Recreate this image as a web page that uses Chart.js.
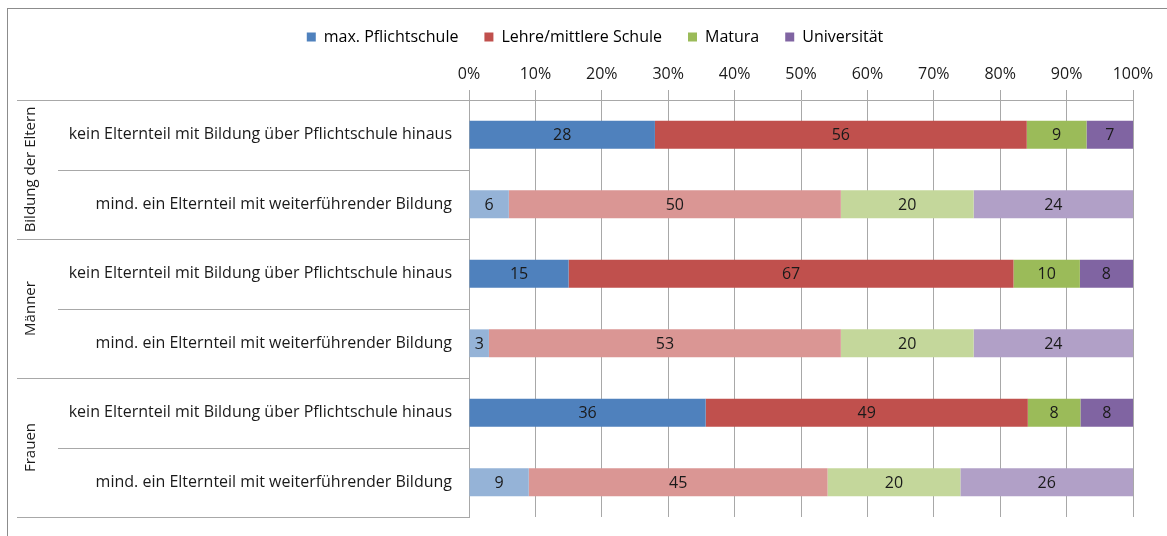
<!DOCTYPE html>
<html>
<head>
<meta charset="utf-8">
<script src="https://cdn.jsdelivr.net/npm/chart.js@4/dist/chart.umd.min.js"></script>
<style>
  html, body { margin: 0; background: #fff; }
  #wrap { position: relative; width: 1167px; height: 536px; }
</style>
</head>
<body>
<div id="wrap"><canvas id="chart"></canvas></div>
<script>
// rows, top to bottom; two rows per group
const rowLabels = [
  'kein Elternteil mit Bildung über Pflichtschule hinaus',
  'mind. ein Elternteil mit weiterführender Bildung',
  'kein Elternteil mit Bildung über Pflichtschule hinaus',
  'mind. ein Elternteil mit weiterführender Bildung',
  'kein Elternteil mit Bildung über Pflichtschule hinaus',
  'mind. ein Elternteil mit weiterführender Bildung'
];
const groupLabels = ['Bildung der Eltern', 'Männer', 'Frauen'];
const seriesNames = ['max. Pflichtschule', 'Lehre/mittlere Schule', 'Matura', 'Universität'];

// percentages per row
const pflichtschule = [28, 6, 15, 3, 36, 9];
const lehre = [56, 50, 67, 53, 49, 45];
const matura = [9, 20, 10, 20, 8, 20];
const universitaet = [7, 24, 8, 24, 8, 26];

const darkColors = ['#4F81BD', '#C0504D', '#9BBB59', '#8064A2'];
const lightColors = ['#95B3D7', '#DA9694', '#C4D79B', '#B1A0C7'];

const FONT = '"Open Sans"';
const SIZE = 16;
const TEXT = '#1a1a1a';
const LINE = '#a8a8a8';

const series = [pflichtschule, lehre, matura, universitaet];
const rowTotals = rowLabels.map((_, r) => series.reduce((s, arr) => s + arr[r], 0));

const datasets = series.map((values, i) => ({
  label: seriesNames[i],
  counts: values,
  // 100% stacked: each row is scaled to its own total
  data: values.map((v, r) => v / rowTotals[r] * 100),
  backgroundColor: ctx => (ctx.dataIndex % 2 ? lightColors[i] : darkColors[i]),
  borderWidth: 0,
  barPercentage: 0.4,
  categoryPercentage: 1
}));

const framePlugin = {
  id: 'frame',
  beforeDraw(chart) {
    const ctx = chart.ctx;
    ctx.save();
    ctx.fillStyle = '#fff';
    ctx.fillRect(0, 0, chart.width, chart.height);
    ctx.strokeStyle = '#8c8c8c';
    ctx.lineWidth = 1;
    ctx.strokeRect(7.5, 8.5, chart.width, chart.height);
    ctx.restore();
  }
};

// separator lines left of the bars plus the rotated group titles
const rowGridPlugin = {
  id: 'rowGrid',
  afterDraw(chart) {
    const ctx = chart.ctx;
    const y = chart.scales.y;
    const right = chart.chartArea.left;
    ctx.save();
    ctx.strokeStyle = LINE;
    ctx.lineWidth = 1;
    for (let i = 0; i <= rowLabels.length; i++) {
      const py = Math.round(y.getPixelForValue(i - 0.5)) + 0.5;
      const left = i % 2 === 0 ? 17 : 58;
      ctx.beginPath();
      ctx.moveTo(left, py);
      ctx.lineTo(right, py);
      ctx.stroke();
    }
    ctx.fillStyle = TEXT;
    ctx.font = '15px ' + FONT;
    ctx.textAlign = 'center';
    ctx.textBaseline = 'middle';
    groupLabels.forEach((g, k) => {
      const cy = y.getPixelForValue(k * 2 + 0.5);
      ctx.save();
      ctx.translate(31, cy);
      ctx.rotate(-Math.PI / 2);
      ctx.fillText(g, 0, 0);
      ctx.restore();
    });
    ctx.restore();
  }
};

const barValuesPlugin = {
  id: 'barValues',
  afterDatasetsDraw(chart) {
    const ctx = chart.ctx;
    ctx.save();
    ctx.fillStyle = TEXT;
    ctx.font = SIZE + 'px ' + FONT;
    ctx.textAlign = 'center';
    ctx.textBaseline = 'middle';
    chart.data.datasets.forEach((ds, i) => {
      chart.getDatasetMeta(i).data.forEach((bar, r) => {
        const p = bar.getCenterPoint();
        ctx.fillText(String(ds.counts[r]), p.x, p.y + 1);
      });
    });
    ctx.restore();
  }
};

new Chart(document.getElementById('chart'), {
  type: 'bar',
  data: { labels: rowLabels, datasets },
  plugins: [framePlugin, rowGridPlugin, barValuesPlugin],
  options: {
    indexAxis: 'y',
    responsive: true,
    maintainAspectRatio: false,
    animation: false,
    layout: { padding: { left: 57, right: 34, top: 3, bottom: 19 } },
    plugins: {
      tooltip: { enabled: false },
      legend: {
        position: 'top',
        labels: {
          boxWidth: 9,
          boxHeight: 9,
          padding: 26,
          color: TEXT,
          font: { family: FONT, size: SIZE },
          generateLabels(chart) {
            return chart.data.datasets.map((ds, i) => ({
              text: ds.label,
              fillStyle: darkColors[i],
              strokeStyle: darkColors[i],
              lineWidth: 0,
              datasetIndex: i
            }));
          }
        }
      }
    },
    scales: {
      x: {
        position: 'top',
        stacked: true,
        min: 0,
        max: 100,
        ticks: {
          stepSize: 10,
          padding: 6,
          color: TEXT,
          font: { family: FONT, size: SIZE },
          callback: v => v + '%'
        },
        grid: { color: LINE, tickLength: 10, tickColor: LINE },
        border: { color: LINE },
        // labels are clipped to the scale box, so keep it tall enough
        afterFit(scale) { scale.height = 45; }
      },
      y: {
        stacked: true,
        ticks: {
          padding: 9,
          color: TEXT,
          font: { family: FONT, size: SIZE }
        },
        grid: { display: false },
        border: { display: true, color: LINE },
        afterFit(scale) { scale.width = 469 - 57; }
      }
    }
  }
});
</script>
</body>
</html>
